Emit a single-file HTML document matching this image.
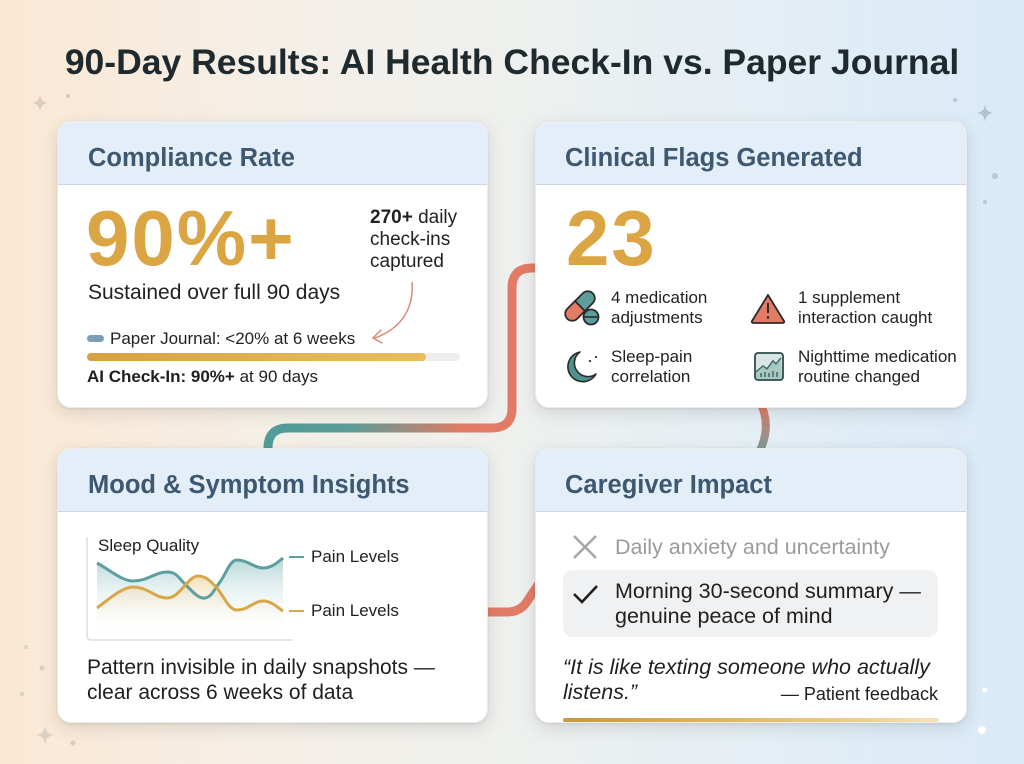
<!DOCTYPE html>
<html><head><meta charset="utf-8">
<style>
*{margin:0;padding:0;box-sizing:border-box}
html,body{width:1024px;height:764px;overflow:hidden}
body{position:relative;font-family:"Liberation Sans",Arial,sans-serif;color:#1f1f1f;
background:linear-gradient(90deg,#fbe8d3 0%,#f5efe6 25%,#eef0ee 50%,#e4eef4 75%,#d9eaf8 100%);}
.abs{position:absolute;white-space:nowrap}
.card{position:absolute;background:#fff;border-radius:14px;box-shadow:0 5px 16px rgba(60,60,60,0.14),0 1px 3px rgba(0,0,0,0.08);border:1px solid #ececec;overflow:hidden;z-index:2}
.hdr{position:absolute;left:0;top:0;right:0;height:63px;background:#e3eef9;border-bottom:1px solid #c9d8e5}
.htxt{position:absolute;font-size:25.5px;font-weight:bold;color:#3d5870;line-height:30px;white-space:nowrap}
.big{position:absolute;font-size:78px;font-weight:bold;color:#dba543;line-height:78px;letter-spacing:2px;white-space:nowrap}
#over{position:absolute;left:0;top:0;z-index:3}
#under{position:absolute;left:0;top:0;z-index:1}
</style></head><body>

<svg id="under" width="1024" height="764" viewBox="0 0 1024 764">
<defs>
<linearGradient id="gc1" gradientUnits="userSpaceOnUse" x1="268" y1="0" x2="512" y2="0">
<stop offset="0" stop-color="#4f9d99"/><stop offset="0.35" stop-color="#5e9c97"/><stop offset="0.8" stop-color="#e07c66"/><stop offset="1" stop-color="#e27b65"/>
</linearGradient>
<linearGradient id="gc2" gradientUnits="userSpaceOnUse" x1="0" y1="405" x2="0" y2="450">
<stop offset="0" stop-color="#e27b65"/><stop offset="1" stop-color="#7d9a97"/>
</linearGradient>
</defs>
<path d="M545,268 L532,268 Q512,268 512,288 L512,408 Q512,428 492,428 L288,428 Q268,428 268,448 L268,460" fill="none" stroke="url(#gc1)" stroke-width="9"/>
<path d="M759,400 Q774,428 756,458" fill="none" stroke="url(#gc2)" stroke-width="8"/>
<path d="M480,612 L507,612 Q521,612 528,600 L540,582" fill="none" stroke="#e27b65" stroke-width="9"/>
<!-- sparkles -->
<path d="M40,93 Q40,103 50,103 Q40,103 40,113 Q40,103 30,103 Q40,103 40,93Z" fill="#d9cfbf"/>
<circle cx="68" cy="96" r="2" fill="#cfcac2"/>
<path d="M985,103 Q985,113 995,113 Q985,113 985,123 Q985,113 975,113 Q985,113 985,103Z" fill="#b4c2cf"/>
<circle cx="955" cy="100" r="2" fill="#bcc6cf"/>
<circle cx="995" cy="176" r="3" fill="#b9c7d3"/>
<circle cx="985" cy="202" r="2" fill="#b9c7d3"/>
<circle cx="26" cy="647" r="2" fill="#ddd2c4"/>
<circle cx="42" cy="668" r="2.5" fill="#d8cfc3"/>
<circle cx="22" cy="694" r="2.5" fill="#ddd2c4"/>
<path d="M45,724 Q45,735 56,735 Q45,735 45,746 Q45,735 34,735 Q45,735 45,724Z" fill="#dcd2c4"/>
<circle cx="73" cy="743" r="2.5" fill="#d8cfc3"/>
<circle cx="985" cy="690" r="2.5" fill="#ffffff"/>
<circle cx="982" cy="730" r="4" fill="#ffffff"/>
</svg>

<div class="abs" style="left:0;width:1024px;top:40px;text-align:center;font-size:35.5px;font-weight:bold;color:#1f2a2f;line-height:44px;z-index:2">90-Day Results: AI Health Check-In vs. Paper Journal</div>

<!-- Card 1 -->
<div class="card" style="left:57px;top:121px;width:431px;height:287px">
<div class="hdr"></div>
</div>
<!-- Card 2 -->
<div class="card" style="left:535px;top:121px;width:432px;height:287px">
<div class="hdr"></div>
</div>
<!-- Card 3 -->
<div class="card" style="left:57px;top:448px;width:431px;height:275px">
<div class="hdr"></div>
</div>
<!-- Card 4 -->
<div class="card" style="left:535px;top:448px;width:432px;height:275px">
<div class="hdr"></div>
<div style="position:absolute;left:27px;bottom:0;width:376px;height:4px;border-radius:2px;background:linear-gradient(90deg,#c8983c,#deb45c 40%,#ecd08e 80%,#f3e3bd)"></div>
</div>

<div id="content" style="position:absolute;left:0;top:0;width:1024px;height:764px;z-index:3">
<!-- card1 -->
<div class="htxt" style="left:88px;top:143px">Compliance Rate</div>
<div class="big" style="left:86px;top:199px">90%+</div>
<div class="abs" style="left:370px;top:207px;font-size:19px;line-height:22px;color:#222"><b>270+</b> daily<br>check-ins<br>captured</div>
<div class="abs" style="left:88px;top:280px;font-size:21px;line-height:26px;color:#222">Sustained over full 90 days</div>
<div class="abs" style="left:87px;top:335px;width:17px;height:7px;border-radius:4px;background:#7d9dba"></div>
<div class="abs" style="left:110px;top:328px;font-size:17px;line-height:22px;color:#222">Paper Journal: &lt;20% at 6 weeks</div>
<div class="abs" style="left:87px;top:353px;width:373px;height:8px;border-radius:4px;background:#eeeeee"></div>
<div class="abs" style="left:87px;top:353px;width:339px;height:8px;border-radius:4px;background:linear-gradient(90deg,#d6a141,#e2b353 60%,#e9bc5c)"></div>
<div class="abs" style="left:87px;top:366px;font-size:17px;line-height:22px;color:#1f1f1f"><b>AI Check-In: 90%+</b> at 90 days</div>

<!-- card2 -->
<div class="htxt" style="left:565px;top:143px">Clinical Flags Generated</div>
<div class="big" style="left:566px;top:199px">23</div>
<div class="abs" style="left:611px;top:288px;font-size:17px;line-height:20px;color:#222">4 medication<br>adjustments</div>
<div class="abs" style="left:798px;top:288px;font-size:17px;line-height:20px;color:#222">1 supplement<br>interaction caught</div>
<div class="abs" style="left:611px;top:347px;font-size:17px;line-height:20px;color:#222">Sleep-pain<br>correlation</div>
<div class="abs" style="left:798px;top:347px;font-size:17px;line-height:20px;color:#222">Nighttime medication<br>routine changed</div>

<!-- card3 -->
<div class="htxt" style="left:88px;top:470px">Mood &amp; Symptom Insights</div>
<div class="abs" style="left:98px;top:535px;font-size:17px;line-height:21px;color:#222">Sleep Quality</div>
<div class="abs" style="left:311px;top:546px;font-size:17px;line-height:22px;color:#222">Pain Levels</div>
<div class="abs" style="left:311px;top:600px;font-size:17px;line-height:22px;color:#222">Pain Levels</div>
<div class="abs" style="left:87px;top:655px;font-size:21px;line-height:25px;color:#1f1f1f">Pattern invisible in daily snapshots —<br>clear across 6 weeks of data</div>

<!-- card4 -->
<div class="htxt" style="left:565px;top:470px">Caregiver Impact</div>
<div class="abs" style="left:615px;top:534px;font-size:21.5px;line-height:26px;color:#9b9b9b">Daily anxiety and uncertainty</div>
<div class="abs" style="left:563px;top:570px;width:375px;height:67px;border-radius:10px;background:#f0f1f2"></div>
<div class="abs" style="left:615px;top:579px;font-size:21.5px;line-height:25px;color:#1f1f1f">Morning 30-second summary —<br>genuine peace of mind</div>
<div class="abs" style="left:563px;top:655px;font-size:21.5px;line-height:25px;color:#1f1f1f;font-style:italic">“It is like texting someone who actually<br>listens.”</div>
<div class="abs" style="left:738px;width:200px;text-align:right;top:683px;font-size:18px;line-height:22px;color:#1f1f1f">— Patient feedback</div>
</div>

<svg id="over" width="1024" height="764" viewBox="0 0 1024 764" style="z-index:4">
<defs>
<linearGradient id="tf" x1="0" y1="0" x2="0" y2="1"><stop offset="0" stop-color="#9fc9cc" stop-opacity="0.75"/><stop offset="1" stop-color="#ffffff" stop-opacity="0"/></linearGradient>
<linearGradient id="gf" x1="0" y1="0" x2="0" y2="1"><stop offset="0" stop-color="#ecc98a" stop-opacity="0.6"/><stop offset="1" stop-color="#ffffff" stop-opacity="0"/></linearGradient>
</defs>
<!-- arrow card1 -->
<path d="M412,282 C414,308 402,328 375,338" fill="none" stroke="#d98a78" stroke-width="1.5"/>
<path d="M381,330 L373,338 L382,343" fill="none" stroke="#d98a78" stroke-width="1.5" stroke-linecap="round"/>

<!-- chart frame -->
<path d="M87,537 L87,636 Q87,640 91,640 L293,640" fill="none" stroke="#dedede" stroke-width="1.5"/>
<path d="M97,563 C110,570 122,581 133,581 C148,581 155,572 167,572 C176,572 178,577 183,582 C192,591 198,599 205,598 C212,597 215,588 220,582 C227,572 230,560 237,560 C248,560 254,568 263,568 C272,568 278,562 283,558 L283,632 L97,632Z" fill="url(#tf)"/>
<path d="M97,608 C108,600 122,587 133,587 C148,587 155,598 167,598 C180,598 188,576 198,576 C207,576 212,583 217,588 C225,598 229,610 237,610 C248,610 254,601 263,601 C272,601 278,608 283,611 L283,632 L97,632Z" fill="url(#gf)"/>
<path d="M97,563 C110,570 122,581 133,581 C148,581 155,572 167,572 C176,572 178,577 183,582 C192,591 198,599 205,598 C212,597 215,588 220,582 C227,572 230,560 237,560 C248,560 254,568 263,568 C272,568 278,562 283,558" fill="none" stroke="#5c9f9e" stroke-width="3"/>
<path d="M97,608 C108,600 122,587 133,587 C148,587 155,598 167,598 C180,598 188,576 198,576 C207,576 212,583 217,588 C225,598 229,610 237,610 C248,610 254,601 263,601 C272,601 278,608 283,611" fill="none" stroke="#d7a74a" stroke-width="3"/>
<line x1="289" y1="557" x2="304" y2="557" stroke="#5c9f9e" stroke-width="2"/>
<line x1="289" y1="611" x2="304" y2="611" stroke="#d7a74a" stroke-width="2"/>

<!-- pill icon -->
<g transform="translate(580,306) rotate(-45)">
<path d="M0,-7 L-11,-7 A7,7 0 0 0 -11,7 L0,7Z" fill="#e27b65" stroke="#2b2b2b" stroke-width="1.8"/>
<path d="M0,-7 L11,-7 A7,7 0 0 1 11,7 L0,7Z" fill="#5c9e9b" stroke="#2b2b2b" stroke-width="1.8"/>
</g>
<circle cx="591" cy="317" r="7.5" fill="#5c9e9b" stroke="#2b2b2b" stroke-width="1.8"/>
<line x1="584" y1="317" x2="598" y2="317" stroke="#2b2b2b" stroke-width="1.6"/>
<!-- warning -->
<path d="M768,295 L784,321 Q785,323 782,323 L754,323 Q751,323 752,321 Z" fill="#e27b65" stroke="#2b2b2b" stroke-width="1.8" stroke-linejoin="round"/>
<line x1="768" y1="303" x2="768" y2="313" stroke="#2b2b2b" stroke-width="2"/>
<circle cx="768" cy="317.5" r="1.3" fill="#2b2b2b"/>
<!-- moon -->
<path d="M580,352 A15,15 0 1 0 596,374 A12,12 0 0 1 580,352Z" fill="#4f9290" stroke="#2b2b2b" stroke-width="1.6" stroke-linejoin="round"/>
<circle cx="590" cy="361" r="1.1" fill="#333"/>
<circle cx="596" cy="357" r="1.1" fill="#333"/>
<!-- chart icon -->
<rect x="755" y="353" width="28" height="27" rx="3" fill="#d9e6e1" stroke="#2d4a4a" stroke-width="1.8"/>
<path d="M756,372 L763,366 L767,369 L773,361 L776,364 L781,358" fill="none" stroke="#2d5e5c" stroke-width="1.6"/>
<path d="M756,372 L763,366 L767,369 L773,361 L776,364 L781,358 L782,379 L756,379Z" fill="#7fb0aa" opacity="0.55"/>
<g stroke="#2d4a4a" stroke-width="1.2"><line x1="761" y1="377" x2="761" y2="373"/><line x1="765" y1="377" x2="765" y2="372"/><line x1="769" y1="377" x2="769" y2="373"/><line x1="773" y1="377" x2="773" y2="371"/><line x1="777" y1="377" x2="777" y2="372"/></g>

<!-- X and check -->
<path d="M574,536 L596,558 M596,536 L574,558" stroke="#a8a8a8" stroke-width="2.6" fill="none"/>
<path d="M574,594 L582,602 L597,586" stroke="#1f1f1f" stroke-width="2.6" fill="none"/>
</svg>
</body></html>
